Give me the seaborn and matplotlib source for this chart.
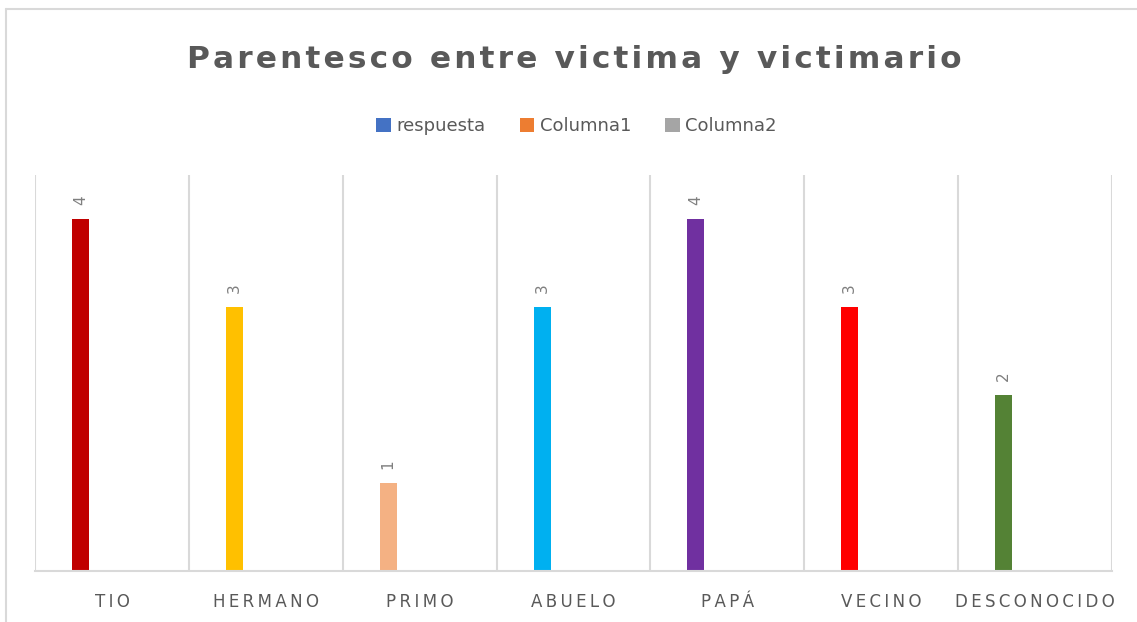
import matplotlib
matplotlib.use("Agg")
import matplotlib.pyplot as plt
import seaborn as sns
import pandas as pd
from matplotlib.lines import Line2D
from matplotlib.patches import Patch

categories = ["TIO", "HERMANO", "PRIMO", "ABUELO", "PAPÁ", "VECINO", "DESCONOCIDO"]
respuesta = [4, 3, 1, 3, 4, 3, 2]
columna1 = [0, 0, 0, 0, 0, 0, 0]
columna2 = [0, 0, 0, 0, 0, 0, 0]
series_names = ["respuesta", "Columna1", "Columna2"]
bar_colors = ["#C00000", "#FFC000", "#F4B183", "#00B0F0", "#7030A0", "#FF0000", "#548235"]
legend_colors = ["#4472C4", "#ED7D31", "#A5A5A5"]
title = "Parentesco entre victima y victimario"

rows = []
for name, vals in zip(series_names, [respuesta, columna1, columna2]):
    for c, v in zip(categories, vals):
        rows.append({"cat": c, "serie": name, "valor": v})
df = pd.DataFrame(rows)

sns.set_theme(style="white")
plt.rcParams['font.family'] = ['DejaVu Sans']

fig = plt.figure(figsize=(11.37, 6.22), dpi=100)
ax = fig.add_axes([0.0308, 0.082, 0.9472, 0.6366])

sns.barplot(data=df, x="cat", y="valor", hue="serie", order=categories,
            hue_order=series_names, width=0.614, gap=0.46, ax=ax,
            palette=legend_colors, legend=False, errorbar=None, saturation=1)

for patch, col in zip(ax.containers[0], bar_colors):
    patch.set_facecolor(col)
    patch.set_edgecolor("none")

ax.bar_label(ax.containers[0], labels=[str(v) for v in respuesta], rotation=90,
             padding=10, color="#7f7f7f", fontsize=11)

ax.set_ylim(0, 4.5)
ax.set_xlim(-0.5, len(categories) - 0.5)
ax.set_yticks([])
ax.set_xlabel("")
ax.set_ylabel("")

for i in range(len(categories) + 1):
    ax.axvline(i - 0.5, color="#d9d9d9", lw=1.5, zorder=0)

for s in ["top", "right", "left"]:
    ax.spines[s].set_visible(False)
ax.spines["bottom"].set_color("#d9d9d9")
ax.spines["bottom"].set_linewidth(1.5)

spaced = ["\u2009".join(list(c)) for c in categories]
ax.set_xticks(range(len(categories)))
ax.set_xticklabels(spaced, color="#595959", fontsize=12)
ax.tick_params(axis="x", length=0, pad=16)

fig.text(0.505, 0.905, "\u200a".join(list(title)), ha="center", va="center",
         fontsize=22.5, fontweight="bold", color="#595959")

handles = [Patch(facecolor=c, edgecolor="none") for c in legend_colors]
fig.legend(handles, series_names, loc="center", bbox_to_anchor=(0.507, 0.797),
           ncol=3, frameon=False, fontsize=13, handlelength=0.8, handleheight=0.8,
           handletextpad=0.3, columnspacing=1.9, labelcolor="#595959")

# chart frame: only top and left edges visible in the crop
fig.add_artist(Line2D([6 / 1137, 1.0], [1 - 9 / 622, 1 - 9 / 622], transform=fig.transFigure,
                      color="#d9d9d9", lw=1.5))
fig.add_artist(Line2D([6 / 1137, 6 / 1137], [0.0, 1 - 9 / 622], transform=fig.transFigure,
                      color="#d9d9d9", lw=1.5))

fig.savefig("out.png", dpi=100, facecolor="white")
